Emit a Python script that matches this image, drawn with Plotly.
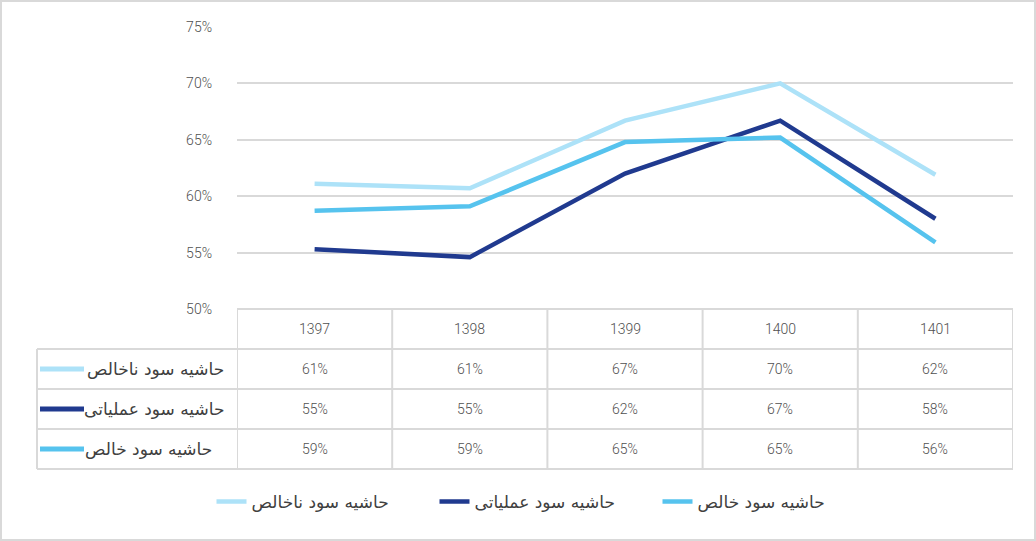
import plotly.graph_objects as go

years = ["1397", "1398", "1399", "1400", "1401"]
series_names = ["حاشیه سود ناخالص", "حاشیه سود عملیاتی", "حاشیه سود خالص"]
gross = [61.1, 60.7, 66.7, 70.0, 61.9]
operating = [55.3, 54.6, 62.0, 66.7, 58.0]
net = [58.7, 59.1, 64.8, 65.2, 55.9]
y_ticks = [50, 55, 60, 65, 70, 75]

colors = ["#ADE2F8", "#203A8F", "#56C3EE"]
series = [gross, operating, net]

W, H = 1036, 541
def px_x(p): return p / W
def px_y(p): return 1 - p / H

x_dom = [px_x(237), px_x(1013)]
y_dom = [px_y(309), px_y(27)]

fig = go.Figure()
xs = list(range(len(years)))
for name, vals, c in zip(series_names, series, colors):
    fig.add_trace(go.Scatter(x=xs, y=vals, mode="lines", name=name,
                             line=dict(color=c, width=4.5),
                             hoverinfo="skip"))

grid = "#D9D9D9"
txt = "#404040"
font_num = dict(family="Roboto", size=14, color="#505050", weight=300)
font_fa = dict(family="DejaVu Sans", size=17, color=txt)

shapes = []
annotations = []
row_edges = [309, 349, 389, 429, 469]
for i, r in enumerate(row_edges):
    x0 = 237 if i == 0 else 37
    shapes.append(dict(type="line", xref="paper", yref="paper",
                       x0=px_x(x0), x1=px_x(1013), y0=px_y(r), y1=px_y(r),
                       line=dict(color=grid, width=2)))
for k in range(len(years) + 1):
    shapes.append(dict(type="line", xref="x", yref="paper",
                       x0=k - 0.5, x1=k - 0.5, y0=px_y(469), y1=px_y(309),
                       line=dict(color=grid, width=2)))
shapes.append(dict(type="line", xref="paper", yref="paper",
                   x0=px_x(37), x1=px_x(37), y0=px_y(469), y1=px_y(349),
                   line=dict(color=grid, width=2)))
shapes.append(dict(type="rect", xref="paper", yref="paper",
                   x0=px_x(1), x1=px_x(W - 1), y0=px_y(H - 1), y1=px_y(1),
                   line=dict(color=grid, width=2)))

for k, yr in enumerate(years):
    annotations.append(dict(x=k, y=px_y(329), xref="x", yref="paper",
                            xanchor="center", yanchor="middle",
                            text=yr, showarrow=False, font=font_num))
row_centers = [369, 409, 449]
for r, (name, vals, c) in enumerate(zip(series_names, series, colors)):
    yc = px_y(row_centers[r])
    for k, v in enumerate(vals):
        annotations.append(dict(x=k, y=yc, xref="x", yref="paper",
                                xanchor="center", yanchor="middle",
                                text=f"{round(v):.0f}%", showarrow=False, font=font_num))
    annotations.append(dict(x=px_x(226 if r != 2 else 214), y=yc, xref="paper", yref="paper",
                            xanchor="right", yanchor="middle",
                            text=name, showarrow=False, font=font_fa))
    shapes.append(dict(type="line", xref="paper", yref="paper",
                       x0=px_x(40), x1=px_x(84), y0=yc, y1=yc,
                       line=dict(color=c, width=5)))

fig.update_layout(
    width=W, height=H,
    margin=dict(l=0, r=0, t=0, b=0, autoexpand=False),
    paper_bgcolor="white", plot_bgcolor="white",
    xaxis=dict(domain=x_dom, range=[-0.5, 4.5], showticklabels=False, automargin=False,
               showgrid=False, zeroline=False, showline=False, fixedrange=True),
    yaxis=dict(domain=y_dom, range=[50, 75], tickvals=y_ticks, automargin=False,
               ticktext=[f"{t}%" for t in y_ticks], showgrid=True,
               gridcolor=grid, gridwidth=2, zeroline=False, showline=False,
               ticklabelstandoff=24, tickfont=font_num, fixedrange=True),
    showlegend=True,
    legend=dict(orientation="h", x=px_x(546), xanchor="center", y=px_y(502),
                yanchor="middle", font=dict(family="DejaVu Sans", size=17, color=txt),
                entrywidth=178, entrywidthmode="pixels", tracegroupgap=0),
    shapes=shapes, annotations=annotations,
)

fig.write_html("out.html")
